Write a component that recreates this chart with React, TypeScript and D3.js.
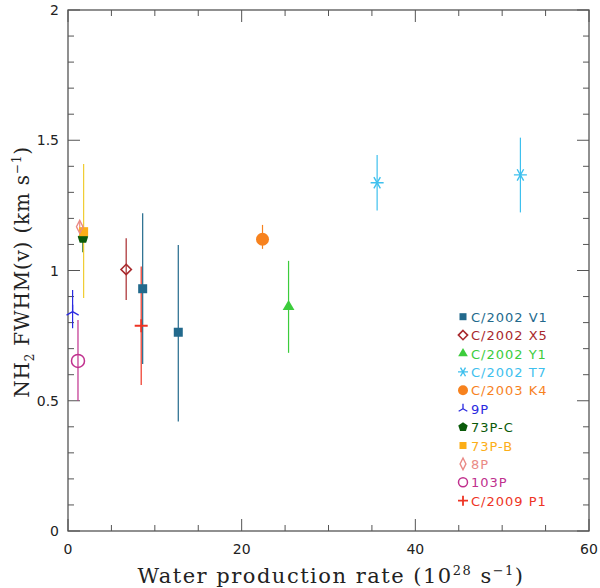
import React from "react";
import * as d3 from "d3";

const comets = ["C/2002 V1", "C/2002 X5", "C/2002 Y1", "C/2002 T7", "C/2003 K4", "9P", "73P-C", "73P-B", "8P", "103P", "C/2009 P1"];
const cometColors = ["#22698c", "#a8282c", "#3ccc3c", "#3ec0ee", "#f7821e", "#2a2ae0", "#0a5a0a", "#fcae18", "#ea8a86", "#c0308e", "#ee3424"];
const cometMarkers = ["square", "diamond", "triangle", "asterisk", "circle", "tri", "pentagon", "square", "thinDiamond", "openCircle", "plus"];

const pointComet = ["C/2002 V1", "C/2002 V1", "C/2002 X5", "C/2002 Y1", "C/2002 T7", "C/2002 T7", "C/2003 K4", "9P", "73P-C", "73P-B", "8P", "103P", "C/2009 P1"];
const pointX = [8.6, 12.7, 6.7, 25.4, 35.6, 52.1, 22.4, 0.53, 1.72, 1.8, 1.35, 1.15, 8.43];
const pointY = [0.93, 0.763, 1.004, 0.861, 1.337, 1.367, 1.12, 0.842, 1.124, 1.149, 1.168, 0.653, 0.788];
const errLow = [0.641, 0.42, 0.887, 0.684, 1.23, 1.223, 1.083, 0.778, 1.07, 0.894, 1.15, 0.5, 0.56];
const errHigh = [1.22, 1.098, 1.124, 1.037, 1.443, 1.51, 1.175, 0.925, 1.17, 1.409, 1.19, 0.81, 1.015];

const xMajorTicks = [0, 20, 40, 60];
const yMajorTicks = [0, 0.5, 1, 1.5, 2];
const yTickLabels = ["0", "0.5", "1", "1.5", "2"];

const W = 600, H = 588;
const L = 68, R = 589, T = 10, B = 531;

const x = d3.scaleLinear().domain([0, 60]).range([L, R]);
const y = d3.scaleLinear().domain([0, 2]).range([B, T]);

function Marker({ type, cx, cy, s, color }: { type: string; cx: number; cy: number; s: number; color: string }) {
  const h = s / 2;
  switch (type) {
    case "square":
      return <rect x={cx - h} y={cy - h} width={s} height={s} fill={color} />;
    case "diamond":
      return <path d={`M${cx},${cy - h * 1.15}L${cx + h * 1.15},${cy}L${cx},${cy + h * 1.15}L${cx - h * 1.15},${cy}Z`} fill="none" stroke={color} strokeWidth={1.6} />;
    case "thinDiamond":
      return <path d={`M${cx},${cy - h * 1.3}L${cx + h * 0.65},${cy}L${cx},${cy + h * 1.3}L${cx - h * 0.65},${cy}Z`} fill="none" stroke={color} strokeWidth={1.4} />;
    case "triangle": {
      const p = d3.symbol().type(d3.symbolTriangle).size(s * s * 0.5)();
      return <path d={p || ""} transform={`translate(${cx},${cy})`} fill={color} />;
    }
    case "pentagon": {
      const pts = d3.range(5).map((i) => {
        const a = -Math.PI / 2 + (i * 2 * Math.PI) / 5;
        return [cx + h * 1.1 * Math.cos(a), cy + h * 1.1 * Math.sin(a)];
      });
      return <path d={"M" + pts.map((p) => p.join(",")).join("L") + "Z"} fill={color} />;
    }
    case "circle":
      return <circle cx={cx} cy={cy} r={h} fill={color} />;
    case "openCircle":
      return <circle cx={cx} cy={cy} r={h} fill="none" stroke={color} strokeWidth={1.5} />;
    case "plus":
      return <path d={`M${cx - h},${cy}H${cx + h}M${cx},${cy - h}V${cy + h}`} stroke={color} strokeWidth={1.8} />;
    case "asterisk": {
      const d = d3.range(3).map((i) => {
        const a = (i * Math.PI) / 3;
        const dx = h * Math.cos(a), dy = h * Math.sin(a);
        return `M${cx - dx},${cy - dy}L${cx + dx},${cy + dy}`;
      }).join("");
      return <path d={d} stroke={color} strokeWidth={1.4} />;
    }
    case "tri": {
      const d = [90, 210, 330].map((deg) => {
        const a = (deg * Math.PI) / 180;
        return `M${cx},${cy}L${cx + h * Math.cos(a)},${cy - h * Math.sin(a)}`;
      }).join("");
      return <path d={d} stroke={color} strokeWidth={1.3} fill="none" />;
    }
  }
  return null;
}

const markerSize: Record<string, number> = {
  square: 9, diamond: 9, thinDiamond: 10, triangle: 11, pentagon: 10, circle: 13, openCircle: 13, plus: 13, asterisk: 13, tri: 14,
};
const legendSize: Record<string, number> = {
  square: 7, diamond: 8, thinDiamond: 9, triangle: 9, pentagon: 9, circle: 10, openCircle: 9, plus: 10, asterisk: 10, tri: 10,
};

export default function App() {
  const frame = "#555";
  const xMinor = d3.range(0, 61, 5);
  const yMinor = d3.range(0, 2.001, 0.1).map((v) => +v.toFixed(2));
  const isXMajor = (v: number) => xMajorTicks.includes(v);
  const isYMajor = (v: number) => Math.abs(v * 2 - Math.round(v * 2)) < 1e-6;

  const idx = (c: string) => comets.indexOf(c);

  return (
    <svg width={W} height={H} style={{ position: "absolute", left: 0, top: 0, background: "#fff" }}>
      {/* ticks */}
      <g stroke={frame} strokeWidth={1}>
        {xMinor.map((v) => {
          const len = isXMajor(v) ? 12 : 6;
          return (
            <g key={"xt" + v}>
              <line x1={x(v)} x2={x(v)} y1={B} y2={B - len} />
              <line x1={x(v)} x2={x(v)} y1={T} y2={T + len} />
            </g>
          );
        })}
        {yMinor.map((v) => {
          const len = isYMajor(v) ? 12 : 6;
          return (
            <g key={"yt" + v}>
              <line x1={L} x2={L + len} y1={y(v)} y2={y(v)} />
              <line x1={R} x2={R - len} y1={y(v)} y2={y(v)} />
            </g>
          );
        })}
      </g>
      <rect x={L} y={T} width={R - L} height={B - T} fill="none" stroke={frame} strokeWidth={1.3} />

      {/* tick labels */}
      <g fontFamily="DejaVu Sans" fontSize={14} fill="#222">
        {xMajorTicks.map((v) => (
          <text key={"xl" + v} x={x(v)} y={B + 23} textAnchor="middle">{v}</text>
        ))}
        {yMajorTicks.map((v, i) => (
          <text key={"yl" + v} x={L - 9} y={y(v) + 5} textAnchor="end">{yTickLabels[i]}</text>
        ))}
      </g>

      {/* axis titles */}
      <text x={331} y={583} textAnchor="middle" fontFamily="DejaVu Serif" fontSize={21} letterSpacing={1.5} fill="#222">
        Water production rate (10<tspan fontSize={13} dy={-8}>28</tspan><tspan dy={8}> s</tspan><tspan fontSize={13} dy={-8}>−1</tspan><tspan dy={8}>)</tspan>
      </text>
      <text transform={`translate(29,272) rotate(-90)`} textAnchor="middle" fontFamily="DejaVu Serif" fontSize={20} letterSpacing={0.8} fill="#222">
        NH<tspan fontSize={12} dy={5}>2</tspan><tspan dy={-5}> FWHM(v) (km s</tspan><tspan fontSize={12} dy={-8}>−1</tspan><tspan dy={8}>)</tspan>
      </text>

      {/* error bars */}
      <g>
        {pointComet.map((c, i) => (
          <line key={"e" + i} x1={x(pointX[i])} x2={x(pointX[i])} y1={y(errLow[i])} y2={y(errHigh[i])}
            stroke={c === "73P-B" ? "#f0cc30" : cometColors[idx(c)]} strokeWidth={1.2} />
        ))}
      </g>
      {/* markers */}
      <g>
        {pointComet.map((c, i) => {
          const k = idx(c);
          const t = cometMarkers[k];
          return <Marker key={"m" + i} type={t} cx={x(pointX[i])} cy={y(pointY[i])} s={markerSize[t]} color={cometColors[k]} />;
        })}
      </g>

      {/* legend */}
      <g fontFamily="DejaVu Sans" fontSize={13} letterSpacing={1}>
        {comets.map((c, i) => {
          const yy = 316.7 + i * 18.4;
          const t = cometMarkers[i];
          return (
            <g key={"lg" + c}>
              <Marker type={t} cx={463} cy={yy} s={legendSize[t]} color={cometColors[i]} />
              <text x={471} y={yy + 5} fill={cometColors[i]}>{c}</text>
            </g>
          );
        })}
      </g>
    </svg>
  );
}
